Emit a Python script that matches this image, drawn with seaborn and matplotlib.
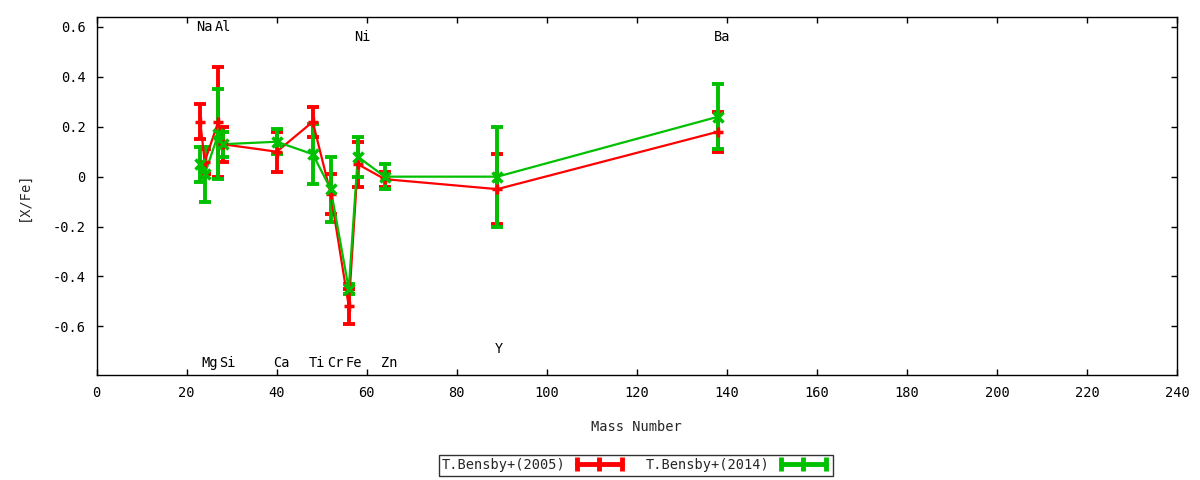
import numpy as np
import pandas as pd
import matplotlib
matplotlib.use("Agg")
import matplotlib.pyplot as plt
import seaborn as sns
from matplotlib.lines import Line2D

# ---- data ----
elements = ["Na", "Mg", "Al", "Si", "Ca", "Ti", "Cr", "Fe", "Ni", "Zn", "Y", "Ba"]
mass = [23, 24, 27, 28, 40, 48, 52, 56, 58, 64, 89, 138]

bensby2005_val = [0.22, 0.06, 0.22, 0.13, 0.10, 0.22, -0.07, -0.52, 0.05, -0.01, -0.05, 0.18]
bensby2005_err = [0.07, 0.05, 0.22, 0.07, 0.08, 0.06, 0.08, 0.07, 0.09, 0.03, 0.14, 0.08]
bensby2014_val = [0.05, 0.01, 0.17, 0.13, 0.14, 0.09, -0.05, -0.45, 0.08, 0.00, 0.00, 0.24]
bensby2014_err = [0.07, 0.11, 0.18, 0.05, 0.05, 0.12, 0.13, 0.02, 0.08, 0.05, 0.20, 0.13]

series_names = ["T.Bensby+(2005)", "T.Bensby+(2014)"]

sns.set_theme(style="ticks")
plt.rcParams["font.family"] = ["DejaVu Sans Mono", "DejaVu Sans"]
plt.rcParams["font.size"] = 9.8

FS = 9.8
fig = plt.figure(figsize=(12, 4.8), dpi=100)
ax = fig.add_axes([0.0806, 0.21875, 0.9002, 0.74585])

df = pd.concat([
    pd.DataFrame({"mass": mass, "val": bensby2005_val, "err": bensby2005_err, "src": series_names[0]}),
    pd.DataFrame({"mass": mass, "val": bensby2014_val, "err": bensby2014_err, "src": series_names[1]}),
])

colors = {series_names[0]: "#ff0000", series_names[1]: "#00c000"}
markers = {series_names[0]: "+", series_names[1]: "x"}

for name in series_names:
    d = df[df["src"] == name]
    c = colors[name]
    ax.errorbar(d["mass"], d["val"], yerr=d["err"], fmt="none", ecolor=c,
                elinewidth=2.8, capsize=4.0, capthick=2.8, zorder=2)
    sns.lineplot(data=d, x="mass", y="val", ax=ax, color=c, linewidth=1.6,
                 sort=False, estimator=None, legend=False, zorder=3)
    ax.plot(d["mass"], d["val"], linestyle="none", marker=markers[name],
            markersize=7, markeredgewidth=2.5, color=c, zorder=4)

# element labels
top_hi = {"Na", "Al"}
top_lo = {"Ni", "Ba"}
for el, m in zip(elements, mass):
    if el in top_hi:
        yy, dx = 0.60, 1.0
    elif el in top_lo:
        yy, dx = 0.56, 1.0
    elif el == "Y":
        yy, dx = -0.69, 0.4
    else:
        yy, dx = -0.745, 1.0
    ax.text(m + dx, yy, el, ha="center", va="center", fontsize=FS, color="black")

ax.set_xlim(0, 240)
ax.set_ylim(-0.795, 0.64)
ax.set_xticks(np.arange(0, 241, 20))
ax.set_yticks([-0.6, -0.4, -0.2, 0, 0.2, 0.4, 0.6])
ax.set_yticklabels(["-0.6", "-0.4", "-0.2", "0", "0.2", "0.4", "0.6"])
ax.tick_params(direction="in", length=4, width=1, top=True, right=True,
               labelsize=FS, colors="black", pad=8)
for s in ax.spines.values():
    s.set_color("black")
    s.set_linewidth(1)
ax.set_xlabel("Mass Number", fontsize=FS, labelpad=14)
ax.set_ylabel("[X/Fe]", fontsize=FS, labelpad=16)
ax.grid(False)

handles = [Line2D([0], [0], color=colors[n], linewidth=3.5, marker="|",
                  markersize=10, markeredgewidth=3.5) for n in series_names]
leg = fig.legend(handles, series_names, loc="center", bbox_to_anchor=(0.53, 0.031),
                 ncol=2, frameon=True, fancybox=False, markerfirst=False,
                 numpoints=3, handlelength=3.9, columnspacing=1.5, handletextpad=0.5,
                 borderpad=0.25, borderaxespad=0, fontsize=FS)
leg.get_frame().set_edgecolor("black")
leg.get_frame().set_linewidth(1)

fig.savefig("out.png", dpi=100)
